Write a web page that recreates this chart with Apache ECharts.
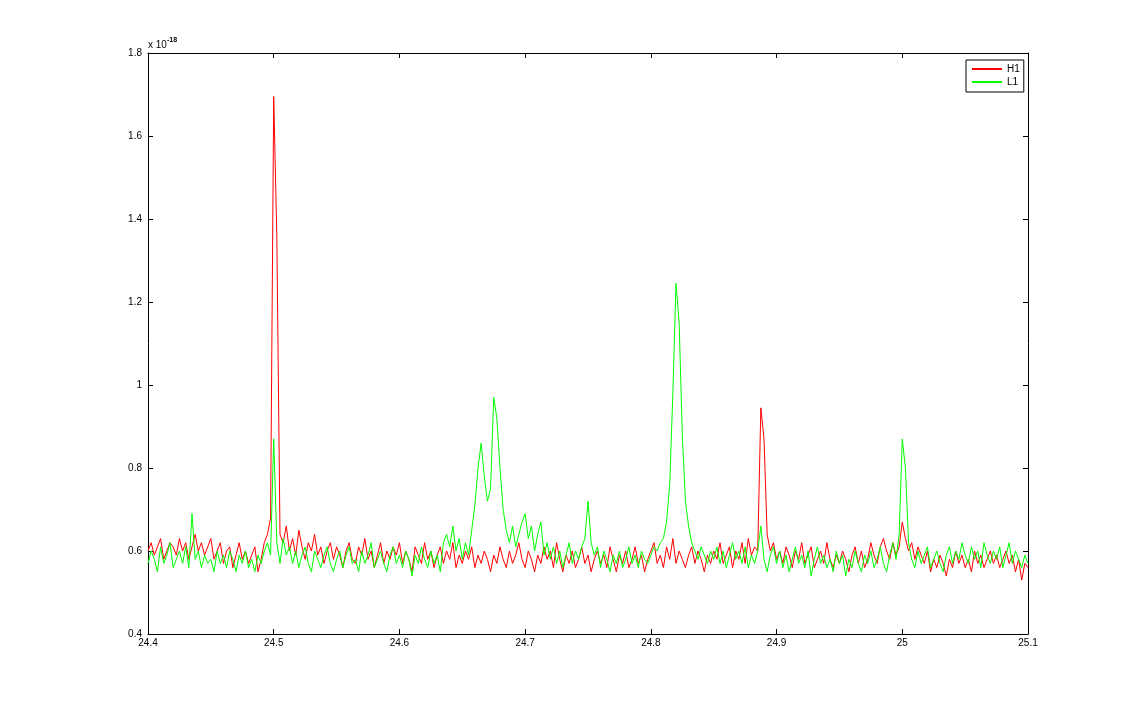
<!DOCTYPE html>
<html>
<head>
<meta charset="utf-8">
<script src="https://cdn.jsdelivr.net/npm/echarts@6/dist/echarts.min.js"></script>
<style>html,body{margin:0;padding:0;background:#fff;}#c{width:1136px;height:714px;}</style>
</head>
<body>
<div id="c"></div>
<script>
// Frequency grid (Hz): first sample and spacing
const xStart = 24.4;
const xStep = 0.0025;
// Tick labels
const xTicks = ['24.4','24.5','24.6','24.7','24.8','24.9','25','25.1'];
const yTicks = ['0.4','0.6','0.8','1','1.2','1.4','1.6','1.8'];
const yScaleLabel = '-18';
// Series values (units of 1e-18)
const H1 = [
0.60,0.62,0.59,0.61,0.63,0.58,0.60,0.62,0.61,0.59,0.63,0.60,0.62,0.58,0.61,0.64,0.60,0.62,0.59,0.61,
0.63,0.58,0.60,0.62,0.57,0.60,0.61,0.56,0.59,0.62,0.58,0.60,0.57,0.59,0.61,0.55,0.58,0.62,0.64,0.68,
1.695,1.355,0.64,0.62,0.66,0.60,0.63,0.59,0.65,0.61,0.58,0.62,0.60,0.64,0.59,0.61,0.57,0.60,0.62,0.58,
0.61,0.59,0.56,0.60,0.62,0.58,0.57,0.61,0.59,0.63,0.58,0.60,0.56,0.59,0.62,0.57,0.60,0.58,0.61,0.59,
0.62,0.57,0.60,0.58,0.55,0.61,0.59,0.57,0.62,0.58,0.60,0.56,0.59,0.61,0.57,0.60,0.58,0.62,0.56,0.59,
0.57,0.60,0.58,0.61,0.56,0.59,0.57,0.60,0.58,0.55,0.59,0.57,0.61,0.58,0.56,0.60,0.57,0.59,0.62,0.58,
0.56,0.60,0.58,0.55,0.59,0.57,0.61,0.58,0.60,0.56,0.62,0.58,0.55,0.59,0.57,0.60,0.56,0.58,0.61,0.57,
0.59,0.55,0.58,0.60,0.57,0.59,0.56,0.61,0.58,0.55,0.59,0.57,0.60,0.56,0.58,0.61,0.57,0.59,0.55,0.58,
0.60,0.62,0.57,0.59,0.56,0.61,0.58,0.63,0.57,0.60,0.58,0.56,0.59,0.61,0.57,0.60,0.58,0.55,0.59,0.57,
0.60,0.58,0.62,0.57,0.59,0.61,0.56,0.60,0.58,0.62,0.57,0.63,0.59,0.61,0.60,0.945,0.87,0.64,0.60,0.62,
0.58,0.60,0.57,0.61,0.59,0.56,0.60,0.58,0.62,0.57,0.59,0.61,0.56,0.58,0.60,0.57,0.62,0.58,0.56,0.59,
0.57,0.60,0.58,0.55,0.59,0.61,0.57,0.60,0.56,0.58,0.62,0.59,0.57,0.61,0.63,0.60,0.58,0.62,0.59,0.61,
0.67,0.63,0.60,0.62,0.58,0.61,0.59,0.57,0.60,0.55,0.58,0.56,0.59,0.57,0.54,0.58,0.56,0.60,0.57,0.59,
0.56,0.58,0.55,0.60,0.57,0.59,0.56,0.58,0.60,0.57,0.59,0.56,0.58,0.60,0.57,0.59,0.55,0.58,0.53,0.57,0.56
];
const L1 = [
0.57,0.60,0.58,0.55,0.61,0.57,0.59,0.62,0.56,0.58,0.60,0.57,0.61,0.56,0.69,0.58,0.60,0.56,0.59,0.57,
0.58,0.55,0.60,0.57,0.59,0.56,0.60,0.58,0.55,0.59,0.57,0.60,0.56,0.58,0.55,0.59,0.57,0.60,0.62,0.59,
0.87,0.62,0.57,0.63,0.59,0.61,0.57,0.60,0.56,0.59,0.61,0.57,0.55,0.60,0.58,0.56,0.59,0.61,0.57,0.55,
0.58,0.60,0.56,0.59,0.61,0.57,0.58,0.55,0.60,0.57,0.59,0.62,0.56,0.58,0.60,0.57,0.55,0.59,0.61,0.57,
0.59,0.56,0.60,0.58,0.54,0.59,0.57,0.61,0.58,0.56,0.60,0.57,0.59,0.55,0.62,0.64,0.61,0.66,0.60,0.63,
0.58,0.62,0.59,0.65,0.71,0.80,0.86,0.78,0.72,0.75,0.97,0.92,0.80,0.70,0.65,0.62,0.66,0.61,0.64,0.67,
0.69,0.63,0.66,0.60,0.64,0.67,0.59,0.62,0.58,0.61,0.57,0.60,0.56,0.59,0.62,0.57,0.60,0.58,0.61,0.63,
0.72,0.62,0.59,0.61,0.56,0.60,0.58,0.55,0.59,0.57,0.60,0.56,0.58,0.61,0.57,0.59,0.56,0.60,0.58,0.57,
0.59,0.61,0.60,0.62,0.63,0.67,0.76,0.98,1.245,1.15,0.88,0.72,0.66,0.62,0.60,0.58,0.61,0.59,0.57,0.60,
0.58,0.61,0.57,0.60,0.56,0.59,0.62,0.58,0.60,0.57,0.61,0.56,0.59,0.57,0.60,0.66,0.58,0.55,0.59,0.61,
0.57,0.60,0.56,0.59,0.55,0.58,0.61,0.57,0.59,0.56,0.60,0.54,0.58,0.61,0.57,0.59,0.56,0.58,0.55,0.60,
0.57,0.59,0.54,0.58,0.56,0.60,0.57,0.55,0.59,0.57,0.60,0.56,0.58,0.61,0.57,0.55,0.59,0.62,0.58,0.64,
0.87,0.80,0.62,0.58,0.56,0.60,0.57,0.59,0.61,0.56,0.58,0.60,0.57,0.55,0.59,0.61,0.57,0.60,0.58,0.62,
0.59,0.57,0.61,0.58,0.60,0.56,0.62,0.59,0.57,0.60,0.58,0.61,0.56,0.59,0.62,0.57,0.60,0.58,0.56,0.59,0.57
];

function pairs(arr){ return arr.map((v,i)=>[+(xStart + i*xStep).toFixed(4), v]); }
const fmt = v => String(+v.toFixed(1));
const font = 'Liberation Sans, Arial, Helvetica, sans-serif';

const chart = echarts.init(document.getElementById('c'), null, {renderer:'canvas'});
const axisCommon = {
  axisLine:{show:true, lineStyle:{color:'#000', width:1}},
  axisTick:{show:true, inside:true, length:5, lineStyle:{color:'#000'}},
  splitLine:{show:false}
};
chart.setOption({
  animation:false,
  backgroundColor:'#fff',
  grid:{left:148, right:108, top:53, bottom:80, containLabel:false},
  xAxis:[
    Object.assign({type:'value', min:24.4, max:25.1, interval:0.1, position:'bottom',
      axisLabel:{color:'#000', fontSize:10, fontFamily:font, margin:4, formatter:v=>{const s=fmt(v); return xTicks.includes(s)?s:'';}}}, axisCommon),
    Object.assign({type:'value', min:24.4, max:25.1, interval:0.1, position:'top', axisLabel:{show:false}}, axisCommon)
  ],
  yAxis:[
    Object.assign({type:'value', min:0.4, max:1.8, interval:0.2, position:'left',
      axisLabel:{color:'#000', fontSize:10, fontFamily:font, margin:6, formatter:v=>{const s=fmt(v); return yTicks.includes(s)?s:'';}}}, axisCommon),
    Object.assign({type:'value', min:0.4, max:1.8, interval:0.2, position:'right', axisLabel:{show:false}}, axisCommon)
  ],
  legend:{
    left:966, top:60, orient:'vertical',
    backgroundColor:'#fff', borderColor:'#000', borderWidth:1,
    padding:[4,4,5,6], itemGap:3, itemWidth:30, itemHeight:2,
    icon:'rect',
    textStyle:{color:'#000', fontSize:10, fontFamily:font},
    data:['H1','L1']
  },
  graphic:[{
    type:'text', left:148, top:37,
    style:{
      text:'{a|x 10}{b|' + yScaleLabel + '}',
      rich:{
        a:{fontSize:10, fontFamily:font, fill:'#000', verticalAlign:'bottom'},
        b:{fontSize:7, fontFamily:font, fontWeight:'bold', fill:'#000', verticalAlign:'top', padding:[0,0,6,0]}
      }
    }
  }],
  series:[
    {name:'H1', type:'line', data:pairs(H1), showSymbol:false, symbol:'none', sampling:null,
     lineStyle:{color:'#ff0000', width:1}, itemStyle:{color:'#ff0000'}},
    {name:'L1', type:'line', data:pairs(L1), showSymbol:false, symbol:'none', sampling:null,
     lineStyle:{color:'#00ff00', width:1}, itemStyle:{color:'#00ff00'}}
  ]
});
</script>
</body>
</html>
